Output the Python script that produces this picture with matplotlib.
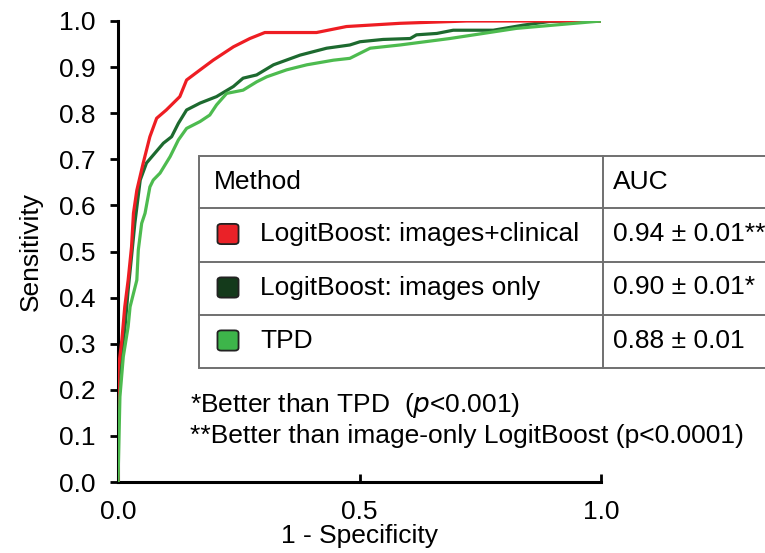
import matplotlib
matplotlib.use("Agg")
import matplotlib.pyplot as plt
from matplotlib.patches import Rectangle, FancyBboxPatch
from matplotlib.lines import Line2D

plt.rcParams["font.family"] = ["Liberation Sans", "DejaVu Sans"]

# ROC curves (1 - specificity, sensitivity)
red_x = [0, 0, 0.008, 0.014, 0.021, 0.028, 0.032, 0.039, 0.052, 0.066, 0.08, 0.10,
         0.128, 0.142, 0.17, 0.197, 0.239, 0.273, 0.304, 0.411, 0.473, 0.584, 0.722, 1.0]
red_y = [0, 0.24, 0.308, 0.38, 0.438, 0.51, 0.583, 0.633, 0.691, 0.749, 0.789, 0.807,
         0.836, 0.872, 0.894, 0.915, 0.944, 0.962, 0.975, 0.975, 0.988, 0.995, 1.0, 1.0]

dark_x = [0, 0, 0.004, 0.014, 0.021, 0.028, 0.035, 0.046, 0.059, 0.094, 0.111, 0.125,
          0.142, 0.17, 0.204, 0.239, 0.259, 0.287, 0.322, 0.377, 0.432, 0.48, 0.501,
          0.549, 0.605, 0.618, 0.66, 0.694, 0.777, 0.839, 0.894, 0.929, 1.0]
dark_y = [0, 0.2, 0.25, 0.33, 0.416, 0.489, 0.562, 0.655, 0.692, 0.735, 0.749, 0.778,
          0.807, 0.822, 0.836, 0.858, 0.876, 0.883, 0.905, 0.926, 0.941, 0.948, 0.955,
          0.96, 0.962, 0.97, 0.973, 0.98, 0.98, 0.991, 0.999, 1.0, 1.0]

light_x = [0, 0.004, 0.011, 0.021, 0.025, 0.039, 0.042, 0.049, 0.056, 0.066, 0.073,
           0.087, 0.108, 0.125, 0.142, 0.17, 0.19, 0.204, 0.225, 0.259, 0.287, 0.308,
           0.349, 0.391, 0.446, 0.48, 0.522, 0.584, 0.687, 0.825, 1.0]
light_y = [0, 0.185, 0.272, 0.337, 0.38, 0.438, 0.503, 0.561, 0.583, 0.64, 0.655,
           0.67, 0.706, 0.742, 0.767, 0.782, 0.796, 0.818, 0.843, 0.85, 0.868, 0.879,
           0.894, 0.905, 0.915, 0.919, 0.941, 0.948, 0.962, 0.984, 1.0]

methods = ["LogitBoost: images+clinical", "LogitBoost: images only", "TPD"]
aucs = ["0.94 \u00b1 0.01**", "0.90 \u00b1 0.01*", "0.88 \u00b1 0.01"]
line_cols = ["#ee1d23", "#1d6a2f", "#4dbb4f"]
box_cols = ["#ea2228", "#143a1b", "#3db54a"]

FS = 19
W, H = 765, 553
fig = plt.figure(figsize=(W / 100, H / 100), dpi=100)
fig.patch.set_facecolor("white")
ax = fig.add_axes([118 / W, 1 - 482 / H, 483 / W, 461 / H])

ax.plot(dark_x, dark_y, color=line_cols[1], lw=2.3, zorder=3)
ax.plot(red_x, red_y, color=line_cols[0], lw=2.3, zorder=4)
ax.plot(light_x, light_y, color=line_cols[2], lw=2.3, zorder=5)

ax.set_xlim(0, 1)
ax.set_ylim(0, 1)
ax.set_xticks([0, 0.5, 1.0])
ax.set_yticks([i / 10 for i in range(11)])
ax.xaxis.set_major_formatter(plt.FormatStrFormatter("%.1f"))
ax.yaxis.set_major_formatter(plt.FormatStrFormatter("%.1f"))
for s in ["top", "right"]:
    ax.spines[s].set_visible(False)
for s in ["left", "bottom"]:
    ax.spines[s].set_linewidth(2.2)
ax.tick_params(axis="x", direction="in", length=6, width=2, labelsize=FS, pad=13)
ax.tick_params(axis="y", direction="out", length=6, width=2, labelsize=FS, pad=10)
ax.set_xlabel("1 - Specificity", fontsize=FS, labelpad=0)
ax.set_ylabel("Sensitivity", fontsize=FS, labelpad=12)


def fx(px):
    return px / W


def fy(py):
    return 1 - py / H


# table
grey = "#707070"
left, right, top, bot = 199, 800, 156, 368
div = 603
rows = [156, 208, 262, 315, 368]
fig.patches.append(Rectangle((fx(left), fy(bot)), fx(right - left), fy(top) - fy(bot),
                             transform=fig.transFigure, facecolor="white",
                             edgecolor=grey, lw=1.4, zorder=10))
for r in rows[1:-1]:
    fig.lines.append(Line2D([fx(left), fx(right)], [fy(r), fy(r)], transform=fig.transFigure,
                            color=grey, lw=1.4, zorder=11))
fig.lines.append(Line2D([fx(div), fx(div)], [fy(top), fy(bot)], transform=fig.transFigure,
                        color=grey, lw=1.4, zorder=11))

fig.text(fx(214), fy((rows[0] + rows[1]) / 2), "Method", fontsize=FS, va="center", zorder=12)
fig.text(fx(613), fy((rows[0] + rows[1]) / 2), "AUC", fontsize=FS, va="center", zorder=12)
for i, (m, a, c) in enumerate(zip(methods, aucs, box_cols)):
    yc = (rows[i + 1] + rows[i + 2]) / 2 - 1
    fig.patches.append(FancyBboxPatch((fx(219), fy(yc + 9)), fx(18), fy(yc - 9) - fy(yc + 9),
                                      boxstyle="round,pad=0.002,rounding_size=0.005",
                                      transform=fig.transFigure, facecolor=c,
                                      edgecolor="#222222", lw=1.3, zorder=12))
    fig.text(fx(260), fy(yc), m, fontsize=FS, va="center", zorder=12)
    fig.text(fx(613), fy(yc), a, fontsize=FS, va="center", zorder=12)

fig.text(fx(190), fy(405), r"*Better than TPD  ($\it{p}$<0.001)", fontsize=FS, va="center")
fig.text(fx(190), fy(436), "**Better than image-only LogitBoost (p<0.0001)", fontsize=FS,
         va="center")

fig.savefig("out.png", dpi=100)
